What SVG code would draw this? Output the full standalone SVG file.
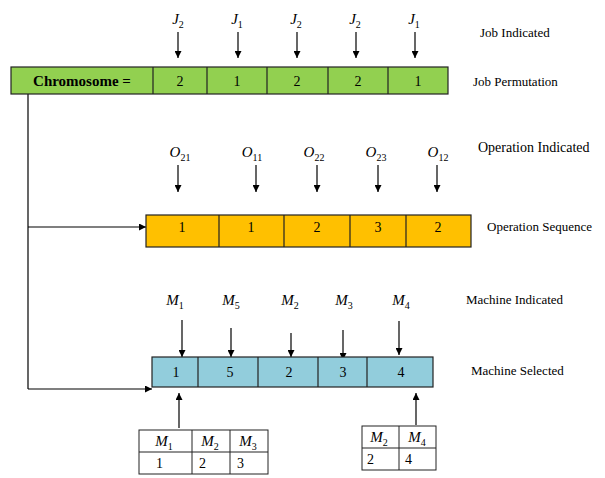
<svg xmlns="http://www.w3.org/2000/svg" width="605" height="478" viewBox="0 0 605 478">
<defs>
<marker id="ah" viewBox="0 0 10 10" refX="10" refY="5" markerWidth="7" markerHeight="7" markerUnits="userSpaceOnUse" orient="auto"><path d="M0,0 L10,5 L0,10 z" fill="#000"/></marker>
<style>
text{font-family:"Liberation Serif",serif;fill:#000}
.c{font-size:14px;text-anchor:middle}
.lbl{font-size:13px}
.d{font-size:14px}
.m{font-size:15px;font-style:italic;text-anchor:middle}
.s{font-size:10px;font-style:normal}
.cell{stroke:#222;stroke-width:1.2}
.a{stroke:#000;stroke-width:1.2;fill:none;marker-end:url(#ah)}
.t{fill:#fff;stroke:#222;stroke-width:1}
</style>
</defs>
<rect width="605" height="478" fill="#fff"/>

<g id="connectors">
<path class="a" d="M178,32 V58"/>
<path class="a" d="M238,32 V58"/>
<path class="a" d="M297,32 V58"/>
<path class="a" d="M356,32 V58"/>
<path class="a" d="M415,32 V58"/>
<path class="a" d="M178,165 V192"/>
<path class="a" d="M256,165 V192"/>
<path class="a" d="M317,165 V192"/>
<path class="a" d="M378,165 V192"/>
<path class="a" d="M437,165 V192"/>
<path class="a" d="M182,320 V357"/>
<path class="a" d="M231,328 V357"/>
<path class="a" d="M291,333 V357"/>
<path class="a" d="M343,330 V360"/>
<path class="a" d="M399,321 V355"/>
<path style="stroke:#000;stroke-width:1.2;fill:none" d="M28,94 V389"/>
<path class="a" d="M28,227 H146"/>
<path class="a" d="M28,389 H152"/>
<path class="a" d="M179,428 V393"/>
<path class="a" d="M416,425 V393"/>
</g>

<g id="job-labels">
<text class="m" x="178" y="24">J<tspan class="s" dy="4">2</tspan></text>
<text class="m" x="237" y="24">J<tspan class="s" dy="4">1</tspan></text>
<text class="m" x="296" y="24">J<tspan class="s" dy="4">2</tspan></text>
<text class="m" x="355" y="24">J<tspan class="s" dy="4">2</tspan></text>
<text class="m" x="414" y="24">J<tspan class="s" dy="4">1</tspan></text>
</g>

<g id="chromosome">
<rect class="cell" x="11" y="67" width="437" height="27" fill="#92D050"/>
<path class="cell" d="M153,67 V94 M207,67 V94 M267,67 V94 M328,67 V94 M388,67 V94"/>
<text x="82" y="86" style="font-family:'Liberation Serif',serif;font-size:15px;font-weight:bold;text-anchor:middle">Chromosome =</text>
<text class="c" x="180" y="86">2</text>
<text class="c" x="237" y="86">1</text>
<text class="c" x="297" y="86">2</text>
<text class="c" x="358" y="86">2</text>
<text class="c" x="418" y="86">1</text>
</g>

<g id="op-labels">
<text class="m" x="180" y="157">O<tspan class="s" dy="4">21</tspan></text>
<text class="m" x="252" y="157">O<tspan class="s" dy="4">11</tspan></text>
<text class="m" x="314" y="157">O<tspan class="s" dy="4">22</tspan></text>
<text class="m" x="376" y="157">O<tspan class="s" dy="4">23</tspan></text>
<text class="m" x="438" y="157">O<tspan class="s" dy="4">12</tspan></text>
</g>

<g id="operation-sequence">
<rect class="cell" x="146" y="215" width="325" height="32" fill="#FFC000"/>
<path class="cell" d="M219,215 V247 M284,215 V247 M350,215 V247 M406,215 V247"/>
<text class="c" x="182" y="232">1</text>
<text class="c" x="251" y="232">1</text>
<text class="c" x="317" y="232">2</text>
<text class="c" x="378" y="232">3</text>
<text class="c" x="438" y="232">2</text>
</g>

<g id="machine-labels">
<text class="m" x="175" y="305">M<tspan class="s" dy="4">1</tspan></text>
<text class="m" x="231" y="305">M<tspan class="s" dy="4">5</tspan></text>
<text class="m" x="290" y="305">M<tspan class="s" dy="4">2</tspan></text>
<text class="m" x="344" y="305">M<tspan class="s" dy="4">3</tspan></text>
<text class="m" x="401" y="305">M<tspan class="s" dy="4">4</tspan></text>
</g>

<g id="machine-selected">
<rect class="cell" x="152" y="357" width="281" height="30" fill="#92CDDC"/>
<path class="cell" d="M198,357 V387 M258,357 V387 M318,357 V387 M367,357 V387"/>
<text class="c" x="176" y="377">1</text>
<text class="c" x="230" y="377">5</text>
<text class="c" x="289" y="377">2</text>
<text class="c" x="343" y="377">3</text>
<text class="c" x="401" y="377">4</text>
</g>

<g id="table1">
<rect class="t" x="139" y="430" width="129" height="44"/>
<path class="t" d="M139,452 H268 M192,430 V474 M230,430 V474"/>
<text class="m" x="164" y="446">M<tspan class="s" dy="4">1</tspan></text>
<text class="m" x="210" y="446">M<tspan class="s" dy="4">2</tspan></text>
<text class="m" x="248" y="446">M<tspan class="s" dy="4">3</tspan></text>
<text class="d" x="156" y="468">1</text>
<text class="d" x="199" y="468">2</text>
<text class="d" x="237" y="468">3</text>
</g>

<g id="table2">
<rect class="t" x="362" y="426" width="74" height="44"/>
<path class="t" d="M362,448 H436 M399,426 V470"/>
<text class="m" x="379" y="442">M<tspan class="s" dy="4">2</tspan></text>
<text class="m" x="417" y="442">M<tspan class="s" dy="4">4</tspan></text>
<text class="d" x="367" y="464">2</text>
<text class="d" x="405" y="464">4</text>
</g>

<g id="side-labels">
<text class="lbl" x="480" y="37">Job Indicated</text>
<text class="lbl" x="473" y="86">Job Permutation</text>
<text x="478" y="152" style="font-size:14px">Operation Indicated</text>
<text class="lbl" x="487" y="231">Operation Sequence</text>
<text class="lbl" x="466" y="304">Machine Indicated</text>
<text class="lbl" x="471" y="375">Machine Selected</text>
</g>
</svg>
